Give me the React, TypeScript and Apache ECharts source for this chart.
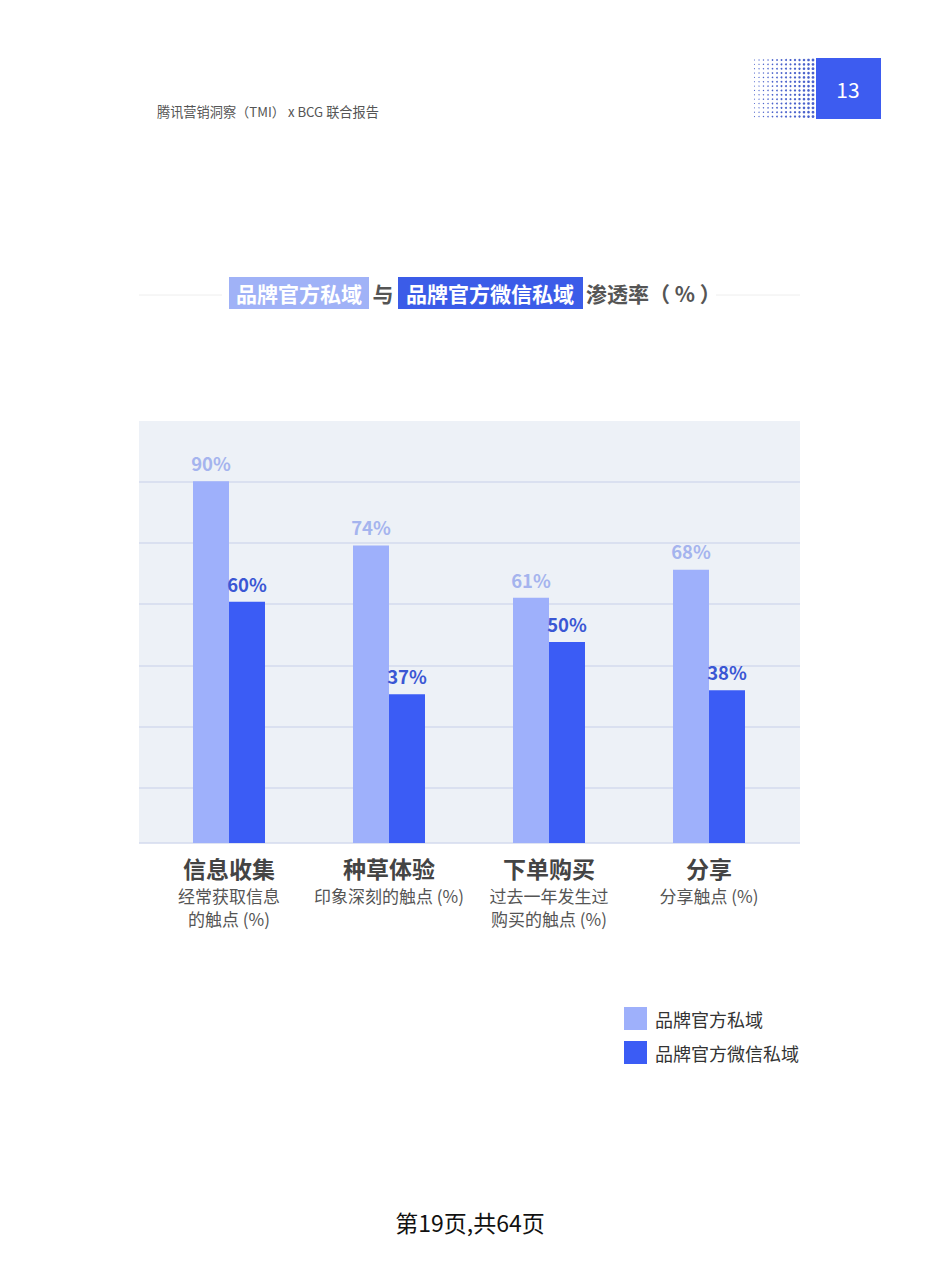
import React, { useEffect, useRef } from "react";
import * as echarts from "echarts";

const categories = ["信息收集", "种草体验", "下单购买", "分享"];
const subtitles = [
  ["经常获取信息", "的触点 (%)"],
  ["印象深刻的触点 (%)"],
  ["过去一年发生过", "购买的触点 (%)"],
  ["分享触点 (%)"],
];
const seriesNames = ["品牌官方私域", "品牌官方微信私域"];
const brandPrivate = [90, 74, 61, 68];
const brandWechat = [60, 37, 50, 38];

const FONT = '"Noto Sans CJK SC", "Noto Sans", sans-serif';
const LIGHT = "#9eb0fb";
const DARK = "#3b5cf5";

function dotPattern() {
  const children: any[] = [];
  const cols = 15;
  const rows = 14;
  for (let c = 0; c < cols; c++) {
    const r = 0.45 + (c / (cols - 1)) * 0.95;
    for (let k = 0; k < rows; k++) {
      children.push({
        type: "circle",
        shape: { cx: 750 + c * 4.5, cy: 60 + k * 4.35, r },
        style: { fill: "#4a62cc" },
        silent: true,
      });
    }
  }
  return children;
}

export default function App() {
  const ref = useRef<HTMLDivElement>(null);
  useEffect(() => {
    if (!ref.current) return;
    const chart = echarts.init(ref.current, undefined, { renderer: "svg" });
    chart.setOption({
      animation: false,
      backgroundColor: "#ffffff",
      textStyle: { fontFamily: FONT },
      legend: {
        data: seriesNames,
        orient: "vertical",
        left: 619,
        top: 1002,
        itemWidth: 23,
        itemHeight: 23,
        itemGap: 11,
        icon: "rect",
        textStyle: { fontSize: 18, color: "#333", fontFamily: FONT, padding: [0, 0, 0, 3] },
      },
      grid: [
        {
          left: 139,
          top: 421,
          width: 661,
          height: 422,
          show: true,
          backgroundColor: "#edf1f7",
          borderWidth: 0,
        },
        {
          left: 149,
          top: 421,
          width: 640,
          height: 422,
        },
      ],
      xAxis: [
        { gridIndex: 0, type: "value", show: false, min: 0, max: 1 },
        {
          gridIndex: 1,
          type: "category",
          data: categories,
          axisLine: { show: false },
          axisTick: { show: false },
          axisLabel: {
            interval: 0,
            margin: 9,
            formatter: (v: string, i: number) =>
              [`{a|${v}}`, ...subtitles[i].map((s) => `{b|${s}}`)].join("\n"),
            rich: {
              a: { fontSize: 23, fontWeight: "bold", color: "#444", lineHeight: 32, fontFamily: FONT },
              b: { fontSize: 17, color: "#555", lineHeight: 23, fontFamily: FONT },
            },
          },
        },
      ],
      yAxis: [
        {
          gridIndex: 0,
          type: "value",
          inverse: true,
          min: 0,
          max: 6.91,
          interval: 1,
          axisLine: { show: false },
          axisTick: { show: false },
          axisLabel: { show: false },
          splitLine: { show: true, showMinLine: false, lineStyle: { color: "#d3daee", width: 1.5 } },
        },
        {
          gridIndex: 1,
          type: "value",
          min: 0,
          max: 105,
          show: false,
          splitLine: { show: false },
        },
      ],
      series: [
        {
          name: seriesNames[0],
          type: "bar",
          xAxisIndex: 1,
          yAxisIndex: 1,
          data: brandPrivate,
          barWidth: 36,
          barGap: "0%",
          itemStyle: { color: LIGHT },
          label: {
            show: true,
            position: "top",
            distance: 9,
            formatter: "{c}%",
            fontSize: 18.5,
            fontWeight: "bold",
            color: "#a5b4ee",
            fontFamily: FONT,
          },
        },
        {
          name: seriesNames[1],
          type: "bar",
          xAxisIndex: 1,
          yAxisIndex: 1,
          data: brandWechat,
          barWidth: 36,
          barGap: "0%",
          itemStyle: { color: DARK },
          label: {
            show: true,
            position: "top",
            distance: 9,
            formatter: "{c}%",
            fontSize: 18.5,
            fontWeight: "bold",
            color: "#3b57d4",
            fontFamily: FONT,
          },
        },
      ],
      graphic: [
        {
          type: "text",
          left: 157,
          top: 105,
          style: { text: "腾讯营销洞察（TMI） x BCG 联合报告", fontSize: 13.2, fill: "#555", fontFamily: FONT },
        },
        { type: "group", children: dotPattern() },
        {
          type: "rect",
          shape: { x: 816, y: 58, width: 65, height: 61 },
          style: { fill: "#3d5cf0" },
        },
        {
          type: "text",
          x: 848,
          y: 89,
          style: { text: "13", fontSize: 21, fill: "#fff", align: "center", verticalAlign: "middle", fontFamily: FONT },
        },
        {
          type: "line",
          shape: { x1: 139, y1: 295, x2: 222, y2: 295 },
          style: { stroke: "#eeeeee", lineWidth: 1 },
        },
        {
          type: "line",
          shape: { x1: 716, y1: 295, x2: 800, y2: 295 },
          style: { stroke: "#eeeeee", lineWidth: 1 },
        },
        {
          type: "rect",
          shape: { x: 229, y: 277, width: 140, height: 32 },
          style: { fill: "#a0b2f7" },
        },
        {
          type: "text",
          x: 299,
          y: 293,
          style: { text: "品牌官方私域", fontSize: 21, fontWeight: "bold", fill: "#fff", align: "center", verticalAlign: "middle", fontFamily: FONT },
        },
        {
          type: "text",
          x: 383,
          y: 293,
          style: { text: "与", fontSize: 21, fontWeight: "bold", fill: "#555", align: "center", verticalAlign: "middle", fontFamily: FONT },
        },
        {
          type: "rect",
          shape: { x: 398, y: 277, width: 185, height: 32 },
          style: { fill: "#3b5ce8" },
        },
        {
          type: "text",
          x: 490,
          y: 293,
          style: { text: "品牌官方微信私域", fontSize: 21, fontWeight: "bold", fill: "#fff", align: "center", verticalAlign: "middle", fontFamily: FONT },
        },
        {
          type: "text",
          x: 586,
          y: 293,
          style: { text: "渗透率（ % ）", fontSize: 21, fontWeight: "bold", fill: "#555", align: "left", verticalAlign: "middle", fontFamily: FONT },
        },
        {
          type: "text",
          x: 470,
          y: 1222,
          style: { text: "第19页,共64页", fontSize: 23, fill: "#111", align: "center", verticalAlign: "middle", fontFamily: FONT },
        },
      ],
    });
    return () => chart.dispose();
  }, []);
  return (
    <div
      ref={ref}
      style={{ position: "absolute", left: 0, top: 0, width: 939, height: 1283 }}
    />
  );
}
